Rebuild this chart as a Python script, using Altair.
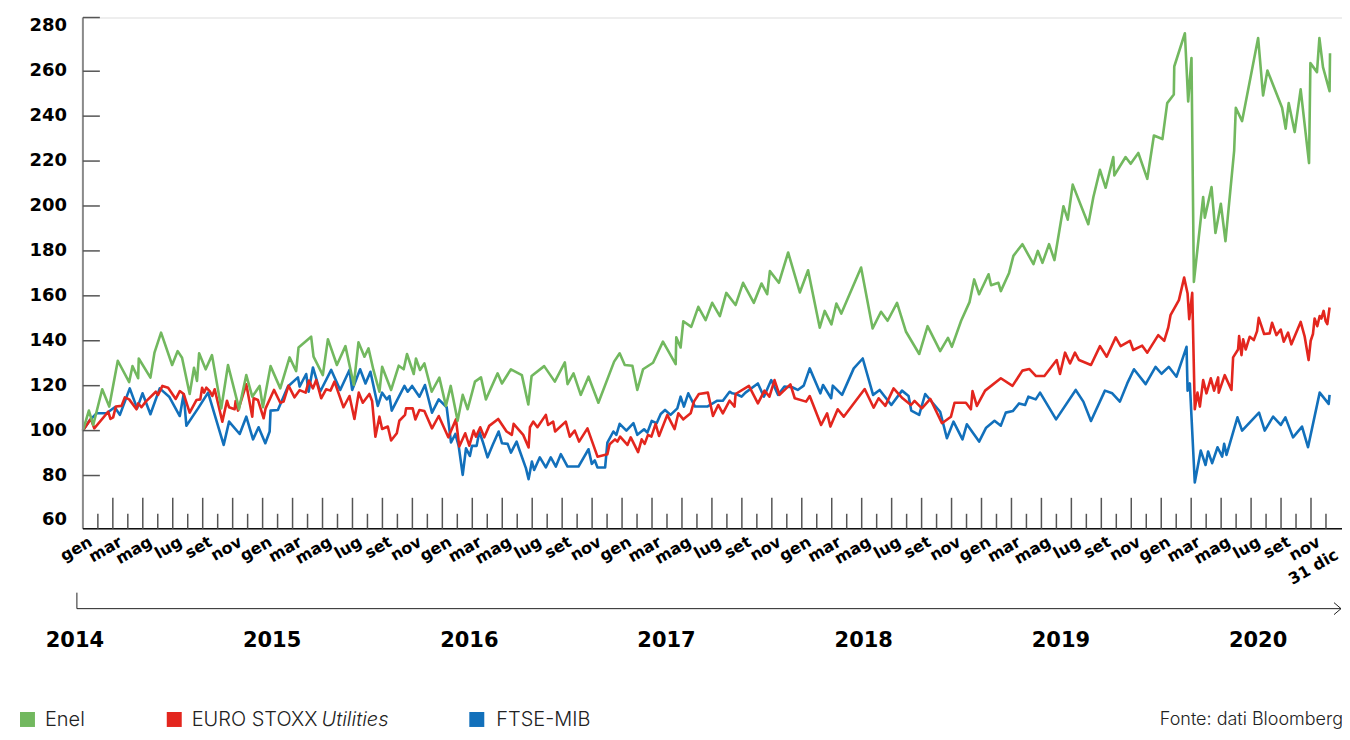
import math
import altair as alt
import pandas as pd

# ---------------- data (t = months since gen 2014, value = index, gen 2014 = 100)
ENEL_T = [0, 0.4, 0.69, 1.29, 1.76, 2.33, 3.09, 3.31, 3.69, 3.73, 4.51, 4.78, 5.22, 5.96, 6.33, 6.62,
          7.13, 7.42, 7.62, 7.76, 8.2, 8.62, 9.24, 9.69, 10.31, 10.42, 10.91, 11.31, 11.8, 12.02, 12.53,
          13.18, 13.8, 14.24, 14.4, 15.24, 15.4, 16.02, 16.36, 16.96, 17.53, 18.09, 18.4, 18.8, 19.07,
          19.4, 19.8, 19.98, 20.58, 21.09, 21.42, 21.64, 22.09, 22.24, 22.51, 22.8, 23.29, 23.8, 24.24,
          24.56, 25.02, 25.36, 25.69, 26.18, 26.58, 26.91, 27.69, 27.98, 28.58, 29.31, 29.74, 29.96,
          30.8, 31.51, 32.18, 32.36, 32.76, 33.24, 33.76, 34.42, 35.47, 35.84, 36.18, 36.69, 37.02,
          37.4, 38.07, 38.73, 39.58, 39.62, 39.91, 40.09, 40.62, 41.09, 41.58, 42.02, 42.53, 42.96,
          43.58, 44.08, 44.8, 45.31, 45.69, 45.87, 46.47, 47.09, 47.87, 48.42, 49.2, 49.53, 49.98,
          50.31, 50.64, 51.96, 52.73, 53.29, 53.73, 54.36, 54.96, 55.84, 56.4, 57.24, 57.76, 58.02,
          58.64, 59.2, 59.51, 59.84, 60.47, 60.64, 61.13, 61.29, 61.84, 62.13, 62.73, 63.47, 63.76,
          64.07, 64.51, 64.87, 65.47, 65.76, 66.09, 67.13, 67.47, 67.91, 68.29, 68.8, 68.87, 69.62,
          69.96, 70.47, 71.07, 71.51, 72.08, 72.4, 72.84, 72.87, 73.58, 73.8, 74.02, 74.18, 74.8,
          74.91, 75.36, 75.62, 75.98, 76.29, 76.87, 76.98, 77.4, 78.47, 78.8, 79.09, 80.07, 80.31,
          80.51, 80.91, 81.31, 81.87, 81.96, 82.4, 82.56, 82.8, 83.24, 83.27]
ENEL_V = [100, 108.9, 102.5, 118.4, 110.7, 131.1, 121.6, 128.7, 123.3, 132.1, 123.6, 134.7, 143.6, 129.2,
          135.4, 132.4, 116.3, 128.0, 122.1, 134.4, 127.3, 133.6, 109.9, 129.2, 112.9, 109.5, 124.7,
          115.1, 119.9, 110.4, 128.7, 118.8, 132.6, 126.5, 137.0, 141.8, 132.9, 124.7, 140.7, 129.2,
          137.6, 120.3, 139.3, 132.9, 136.6, 127.0, 117.3, 128.4, 118.1, 128.9, 127.3, 134.1, 125.2,
          132.1, 127.0, 129.9, 117.3, 123.6, 111.0, 119.9, 104.4, 115.9, 109.5, 121.8, 123.7, 113.9,
          125.5, 121.0, 127.3, 124.7, 111.6, 124.3, 128.7, 121.8, 130.4, 120.7, 125.5, 115.9, 124.0,
          112.4, 130.7, 134.4, 129.2, 128.9, 118.1, 127.3, 130.2, 139.6, 129.6, 141.5, 137.0, 148.7,
          146.2, 155.1, 149.2, 156.9, 151.0, 161.3, 155.9, 165.8, 156.9, 165.5, 160.7, 171.0, 165.8,
          179.3, 161.5, 171.4, 145.8, 153.3, 147.3, 156.6, 152.1, 172.6, 145.5, 152.9, 148.9, 156.9,
          144.0, 134.1, 146.5, 135.4, 141.3, 137.3, 148.9, 157.2, 167.3, 160.7, 169.6, 164.7, 165.8,
          162.1, 170.2, 177.8, 183.0, 174.1, 180.0, 174.7, 183.0, 175.9, 199.9, 193.9, 209.5, 191.9,
          204.0, 216.1, 208.1, 221.8, 213.6, 221.8, 218.8, 223.6, 212.1, 231.4, 229.8, 245.8, 249.6,
          262.1, 276.9, 246.5, 265.9, 166.2, 204.0, 194.8, 208.4, 188.0, 201.0, 184.3, 224.7, 243.7,
          237.8, 274.8, 249.2, 260.3, 243.7, 234.4, 245.8, 232.9, 251.9, 219.1, 263.6, 259.6, 274.8,
          261.8, 251.1, 268.0]

STOXX_T = [0, 0.53, 0.76, 1.69, 1.84, 2.02, 2.2, 2.58, 2.8, 3.09, 3.58, 3.69, 3.91, 4.2, 4.87, 5.02, 5.31,
           5.69, 6.2, 6.47, 6.73, 7.13, 7.58, 7.84, 7.96, 8.09, 8.24, 8.47, 8.64, 8.8, 9.31, 9.62, 9.76,
           10.13, 10.2, 10.36, 10.91, 11.31, 11.4, 11.69, 12.07, 12.2, 12.76, 13.18, 13.4, 13.73, 14.13,
           14.47, 14.87, 15.09, 15.36, 15.58, 15.91, 16.24, 16.53, 16.8, 17.4, 17.8, 18.13, 18.42, 18.69,
           19.13, 19.31, 19.53, 19.8, 19.98, 20.36, 20.58, 20.96, 21.13, 21.51, 21.58, 22.02, 22.2, 22.47,
           22.8, 23.31, 23.76, 24.4, 24.91, 25.13, 25.53, 25.8, 26.09, 26.24, 26.53, 26.8, 27.13, 27.73,
           28.29, 28.64, 28.76, 29.4, 29.76, 29.85, 30.07, 30.35, 30.91, 31.06, 31.4, 31.53, 32.24, 32.51,
           32.84, 33.13, 33.69, 34.36, 35.02, 35.17, 35.53, 35.69, 35.87, 36.36, 36.58, 37.07, 37.31,
           37.51, 37.73, 37.96, 38.24, 38.47, 39.02, 39.51, 39.76, 40.09, 40.58, 40.8, 41.13, 41.73,
           42.07, 42.42, 42.73, 43.18, 43.51, 43.58, 44.47, 45.07, 45.51, 45.84, 46.18, 46.51, 47.24,
           47.53, 48.29, 48.53, 49.29, 49.69, 49.91, 50.4, 50.8, 52.2, 52.8, 53.13, 53.58, 54.13, 54.73,
           55.29, 55.53, 56.02, 56.58, 57.36, 57.96, 58.2, 58.96, 59.29, 59.4, 59.69, 60.24, 61.29,
           62.07, 62.73, 63.2, 63.64, 64.2, 65.02, 65.24, 65.58, 65.91, 66.24, 66.51, 67.31, 67.91,
           68.36, 68.96, 69.29, 69.91, 70.13, 70.73, 71.07, 71.8, 72.2, 72.47, 72.62, 73.18, 73.53,
           73.76, 73.87, 74.07, 74.24, 74.42, 74.58, 74.8, 75.02, 75.31, 75.53, 75.8, 75.84, 76.24,
           76.69, 76.8, 77.13, 77.2, 77.36, 77.47, 77.64, 77.91, 78.18, 78.4, 78.51, 78.87, 79.24, 79.4,
           79.69, 79.98, 80.18, 80.47, 80.69, 81.31, 81.58, 81.84, 81.98, 82.13, 82.24, 82.42, 82.58,
           82.69, 82.84, 82.98, 83.09, 83.24]
STOXX_V = [100, 105.2, 101.0, 108.4, 105.2, 105.9, 110.7, 111.0, 114.8, 113.9, 109.5, 112.1, 110.4, 112.9,
           117.3, 115.9, 119.9, 119.1, 114.1, 117.6, 116.3, 108.0, 113.6, 113.9, 119.1, 116.9, 119.1,
           117.6, 115.4, 118.4, 104.0, 113.3, 110.4, 109.5, 113.2, 108.9, 120.6, 106.2, 114.4, 113.6,
           105.5, 109.9, 118.1, 112.4, 112.9, 120.0, 114.8, 118.0, 116.9, 122.3, 118.8, 122.5, 114.4,
           118.4, 117.8, 121.8, 110.4, 115.4, 105.2, 116.9, 112.4, 116.3, 113.2, 97.3, 106.2, 100.7,
           101.8, 95.6, 98.8, 104.4, 107.0, 109.9, 109.9, 105.0, 109.2, 108.7, 101.0, 106.5, 97.0, 105.0,
           92.9, 98.8, 93.3, 100.0, 97.3, 101.5, 97.0, 102.1, 105.2, 99.6, 98.1, 103.0, 98.1, 92.5, 101.5,
           104.0, 101.5, 107.0, 102.5, 104.0, 99.6, 104.0, 97.3, 100.0, 95.1, 101.0, 88.4, 89.5, 93.9,
           96.1, 95.1, 97.3, 93.6, 97.0, 90.4, 96.1, 94.1, 98.1, 97.3, 103.0, 97.6, 107.0, 100.7, 107.7,
           105.0, 107.7, 112.9, 116.3, 116.9, 106.5, 111.4, 107.7, 113.3, 110.7, 116.3, 119.9, 112.1,
           117.8, 115.1, 122.5, 115.9, 120.6, 114.4, 112.9, 115.4, 102.5, 107.7, 101.8, 109.5, 106.2,
           118.5, 110.2, 114.4, 111.0, 118.8, 114.4, 111.4, 113.2, 109.9, 114.1, 103.3, 106.2, 112.4,
           112.4, 109.5, 117.6, 111.0, 117.8, 123.3, 119.9, 126.7, 127.4, 124.3, 124.3, 131.4, 125.2,
           134.7, 129.9, 134.7, 131.4, 129.2, 137.6, 132.9, 141.5, 137.6, 140.0, 135.9, 137.8, 134.7,
           142.5, 140.0, 145.9, 151.4, 158.1, 168.1, 161.0, 149.6, 161.3, 109.5, 116.9, 110.7, 122.5,
           116.6, 123.3, 117.8, 123.7, 116.9, 124.7, 118.1, 132.6, 136.1, 142.1, 133.6, 140.6, 136.1,
           141.8, 140.3, 144.3, 150.2, 143.0, 143.3, 148.0, 142.5, 145.0, 139.6, 143.6, 138.4, 148.4,
           141.8, 131.4, 140.0, 143.0, 149.9, 146.5, 151.0, 149.9, 153.3, 148.7, 147.4, 154.8]

FTSE_T = [0, 0.47, 0.91, 1.58, 2.13, 2.47, 3.13, 3.62, 3.98, 4.51, 5.13, 5.76, 6.47, 6.73, 6.91, 7.69, 8.36,
          9.4, 9.76, 10.47, 10.91, 11.36, 11.73, 12.18, 12.47, 12.53, 13.02, 13.69, 14.36, 14.47, 14.91,
          15.07, 15.36, 15.84, 16.58, 17.18, 17.8, 17.98, 18.51, 18.87, 19.2, 19.69, 19.98, 20.29, 20.47,
          20.62, 21.47, 21.69, 21.98, 22.47, 22.84, 23.31, 23.76, 24.29, 24.58, 24.87, 25.09, 25.36,
          25.58, 25.84, 25.98, 26.29, 26.47, 26.73, 27.02, 27.36, 27.76, 27.98, 28.36, 28.58, 28.96,
          29.13, 29.58, 29.76, 29.98, 30.13, 30.51, 30.91, 31.24, 31.58, 31.91, 32.36, 33.09, 33.76,
          33.98, 34.18, 34.36, 34.87, 35.02, 35.42, 35.62, 35.84, 36.29, 36.76, 37.02, 37.47, 37.69,
          37.98, 38.31, 38.58, 38.87, 39.24, 39.69, 39.91, 40.13, 40.42, 40.87, 41.69, 42.36, 42.73,
          43.18, 43.36, 43.62, 43.98, 44.24, 45.07, 45.47, 45.96, 46.42, 46.84, 47.36, 47.73, 48.13,
          48.53, 49.24, 49.42, 49.96, 50.07, 50.69, 51.47, 52.07, 52.76, 53.2, 53.98, 54.69, 55.13,
          55.31, 55.84, 56.24, 57.24, 57.69, 58.13, 58.73, 59.02, 59.84, 60.31, 60.87, 61.29, 61.62,
          62.09, 62.51, 62.91, 63.13, 63.62, 63.91, 64.98, 66.29, 66.8, 67.31, 68.24, 68.73, 69.24,
          69.73, 70.18, 70.96, 71.62, 72.02, 72.5, 73.02, 73.69, 73.76, 73.91, 74.24, 74.64, 74.96,
          75.13, 75.4, 75.76, 76.07, 76.2, 76.36, 77.09, 77.4, 78.53, 78.91, 79.47, 79.98, 80.29, 80.8,
          81.4, 81.8, 82.58, 83.18, 83.24]
FTSE_V = [100, 104.7, 107.7, 107.7, 110.4, 107.0, 118.8, 109.9, 116.6, 107.3, 118.8, 115.1, 106.5, 116.3,
          102.2, 109.9, 116.9, 93.6, 104.0, 98.5, 106.2, 96.1, 101.5, 94.4, 99.6, 108.9, 109.2, 119.6,
          123.7, 119.6, 125.2, 117.3, 128.1, 117.3, 127.0, 118.1, 127.0, 118.1, 127.3, 121.0, 126.2,
          111.0, 116.9, 113.9, 115.4, 108.9, 119.9, 117.3, 119.9, 115.1, 120.3, 108.0, 113.9, 110.4,
          94.7, 98.5, 93.2, 80.3, 92.1, 88.7, 93.2, 93.2, 99.6, 94.4, 88.1, 93.6, 99.6, 94.4, 94.1, 90.2,
          95.1, 91.7, 83.3, 78.4, 86.2, 82.5, 88.1, 83.6, 88.1, 84.0, 89.5, 84.0, 84.0, 91.7, 85.2, 86.7,
          83.6, 83.6, 94.7, 99.6, 98.1, 103.0, 100.0, 103.3, 98.1, 100.6, 99.1, 104.3, 103.3, 107.4,
          109.2, 107.0, 109.9, 115.1, 110.7, 116.6, 110.7, 110.7, 113.3, 113.3, 117.3, 116.6, 116.3,
          115.1, 116.9, 121.0, 115.1, 122.5, 115.9, 119.6, 119.3, 118.1, 120.0, 127.7, 116.6, 120.3,
          114.4, 120.0, 115.9, 127.7, 132.1, 115.9, 118.1, 111.4, 117.8, 115.4, 108.9, 107.0, 116.3,
          108.4, 96.6, 104.0, 96.1, 102.8, 95.1, 101.3, 104.4, 102.2, 108.0, 108.7, 112.1, 111.4, 115.1,
          113.9, 116.9, 105.0, 118.1, 112.9, 104.3, 117.8, 116.6, 112.9, 121.0, 127.3, 120.7, 128.4,
          125.3, 128.4, 124.0, 137.3, 117.8, 121.0, 76.9, 91.1, 84.7, 90.7, 85.5, 92.6, 88.4, 94.1, 89.2,
          105.9, 100.0, 108.0, 100.0, 106.2, 102.5, 105.9, 97.0, 101.8, 92.6, 116.9, 111.9, 115.9]

Y_LABELS = [60, 80, 100, 120, 140, 160, 180, 200, 220, 240, 260, 280]
MONTH_NAMES = ["gen", "mar", "mag", "lug", "set", "nov"]
YEARS = [2014, 2015, 2016, 2017, 2018, 2019, 2020]
SERIES = ["Enel", "EURO STOXX", "FTSE-MIB"]
COLORS = ["#72b85f", "#e3261e", "#1270bb"]

# ---------------- layout
W, H = 1261, 512
Y_MIN, Y_MAX = 56.3, 283.9
X_MAX = 84.07
BOLD = "DejaVu Sans"
LIGHT = "Inter"
ANG = 330
YEAR_START, YEAR_STEP = 2014.0405, 13.167   # timeline under the axis: year -> month position


def rot_off(ox, oy, ang=ANG):
    """Screen offset -> dx/dy in the rotated text frame."""
    a = math.radians(ang)
    return ox * math.cos(a) + oy * math.sin(a), -ox * math.sin(a) + oy * math.cos(a)


xs = alt.Scale(domain=[0, X_MAX], nice=False, zero=False)
ys = alt.Scale(domain=[Y_MIN, Y_MAX], nice=False, zero=False)

ONE = pd.DataFrame({"a": [0]})


def line_layer(t, v, color):
    df = pd.DataFrame({"t": t, "v": v})
    return alt.Chart(df).mark_line(color=color, strokeWidth=2.6, strokeJoin="round").encode(
        x=alt.X("t:Q", scale=xs, axis=None),
        y=alt.Y("v:Q", scale=ys, axis=None),
    )


lines_ftse = line_layer(FTSE_T, FTSE_V, COLORS[2])
lines_stoxx = line_layer(STOXX_T, STOXX_V, COLORS[1])
lines_enel = line_layer(ENEL_T, ENEL_V, COLORS[0])

# axis lines
y_domain = alt.Chart(ONE).mark_rule(color="#8a8a8a", strokeWidth=2).encode(
    x=alt.value(0), y=alt.value(0), y2=alt.value(H))
x_domain = alt.Chart(ONE).mark_rule(color="#111", strokeWidth=1.5).encode(
    x=alt.value(0), x2=alt.value(W), y=alt.value(H))

# y labels and inward y ticks
y_labels = alt.Chart(pd.DataFrame({"v": Y_LABELS, "lab": [str(v) for v in Y_LABELS]})).mark_text(
    font=BOLD, fontWeight="bold", fontSize=18, color="black", align="right", baseline="middle", dx=-16
).encode(x=alt.value(0), y=alt.Y("v:Q", scale=ys, axis=None), text="lab:N")
ytick_vals = [v for v in Y_LABELS if 60 < v < 280] + [Y_MAX]
y_ticks = alt.Chart(pd.DataFrame({"v": ytick_vals})).mark_rule(color="#555", strokeWidth=1.5).encode(
    y=alt.Y("v:Q", scale=ys, axis=None), x=alt.value(0), x2=alt.value(17))

# x ticks (long on labelled months, short between)
long_t = list(range(2, 84, 2))
short_t = list(range(1, 84, 2))
x_ticks_long = alt.Chart(pd.DataFrame({"t": long_t})).mark_rule(color="#555", strokeWidth=1.5).encode(
    x=alt.X("t:Q", scale=xs, axis=None), y=alt.value(H), y2=alt.value(H - 31))
x_ticks_short = alt.Chart(pd.DataFrame({"t": short_t})).mark_rule(color="#555", strokeWidth=1.5).encode(
    x=alt.X("t:Q", scale=xs, axis=None), y=alt.value(H), y2=alt.value(H - 15))

# month labels
lab_t = list(range(0, 83, 2))
lab_txt = [MONTH_NAMES[(k % 12) // 2] for k in lab_t]
dx1, dy1 = rot_off(4, 0)
month_labels = alt.Chart(pd.DataFrame({"t": lab_t, "lab": lab_txt})).mark_text(
    angle=ANG, align="right", baseline="top", font=BOLD, fontWeight="bold", fontSize=16,
    color="black", dx=dx1, dy=dy1).encode(
    x=alt.X("t:Q", scale=xs, axis=None), y=alt.value(H + 5), text="lab:N")
dx2, dy2 = rot_off(7, 13)
last_label = alt.Chart(pd.DataFrame({"t": [83], "lab": ["31 dic"]})).mark_text(
    angle=ANG, align="right", baseline="top", font=BOLD, fontWeight="bold", fontSize=16,
    color="black", dx=dx2, dy=dy2).encode(
    x=alt.X("t:Q", scale=xs, axis=None), y=alt.value(H + 5), text="lab:N")


# timeline arrow and year labels
def seg(x1, y1, x2=None, y2=None):
    enc = {"x": alt.value(x1), "y": alt.value(y1)}
    if x2 is not None:
        enc["x2"] = alt.value(x2)
    if y2 is not None:
        enc["y2"] = alt.value(y2)
    return alt.Chart(ONE).mark_rule(color="#222", strokeWidth=1).encode(**enc)


arrow = [seg(-6, 576, y2=592), seg(-6, 592, x2=1260), seg(1253, 586, 1260, 592), seg(1253, 598, 1260, 592)]

year_labels = alt.Chart(pd.DataFrame({"year": YEARS})).transform_calculate(
    lab="toString(datum.year)",
    t=f"(datum.year - {YEAR_START}) * {YEAR_STEP}",
).mark_text(font=BOLD, fontWeight="bold", fontSize=21, color="black", align="center",
            baseline="alphabetic").encode(
    x=alt.X("t:Q", scale=xs, axis=None), y=alt.value(630), text="lab:N")

# legend (manual)
LEG_Y = 703


def square(xc, color):
    return alt.Chart(ONE).mark_square(size=225, opacity=1, filled=True, color=color).encode(
        x=alt.value(xc), y=alt.value(LEG_Y))


def legend_text(txt, xpos, style="normal", align="left", size=20, ypos=LEG_Y + 7):
    return alt.Chart(pd.DataFrame({"lab": [txt]})).mark_text(
        font=LIGHT, fontWeight=300, fontStyle=style, fontSize=size, color="#222",
        align=align, baseline="alphabetic").encode(
        x=alt.value(xpos), y=alt.value(ypos), text="lab:N")


legend = [
    square(-55.5, COLORS[0]), square(91.5, COLORS[1]), square(394.5, COLORS[2]),
    legend_text(SERIES[0], -38), legend_text(SERIES[1], 109), legend_text("Utilities", 239, style="italic"),
    legend_text(SERIES[2], 414),
    legend_text("Fonte: dati Bloomberg", 1262, align="right", size=18, ypos=LEG_Y + 6),
]

chart = alt.layer(
    lines_ftse, lines_stoxx, lines_enel,
    y_domain, x_domain, y_labels, y_ticks, x_ticks_long, x_ticks_short, month_labels, last_label,
    *arrow, year_labels, *legend,
).properties(
    width=W, height=H,
    padding={"left": 75, "top": 9, "right": 0, "bottom": 203},
    autosize=alt.AutoSizeParams(type="none"),
).configure_view(strokeWidth=0).configure(background="white")

chart.save("out.html", embed_options={"renderer": "svg", "actions": False})
